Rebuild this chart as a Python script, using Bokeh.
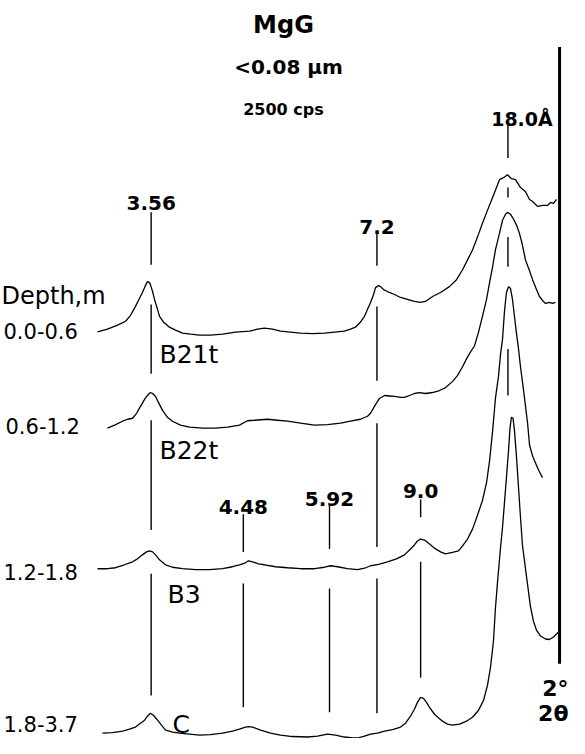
from bokeh.plotting import figure
from bokeh.models import Range1d, Label
from bokeh.embed import file_html
from bokeh.resources import INLINE
from bokeh.core.properties import value

# ---------------- data (2-theta in degrees, intensity in arbitrary units) ----------------
depth_labels = ["0.0-0.6", "0.6-1.2", "1.2-1.8", "1.8-3.7"]
horizon_labels = ["B21t", "B22t", "B3", "C"]
trace_offsets = [408, 314, 170, 1]

t1_theta = [28.01, 27.45, 26.88, 26.43, 26.15, 25.87, 25.65, 25.48, 25.31, 25.20, 25.08, 25.03,
            24.91, 24.80, 24.63, 24.52, 24.29, 23.96, 23.62, 23.22, 22.77, 22.27, 21.65, 20.97,
            20.24, 19.45, 19.00, 18.61, 18.16, 17.71, 17.15, 16.58, 15.91, 15.23, 14.67, 14.11,
            13.77, 13.49, 13.21, 12.98, 12.81, 12.64, 12.47, 12.36, 12.19, 12.08, 11.91, 11.69,
            11.29, 10.95, 10.56, 10.17, 9.83, 9.55, 9.15, 8.70, 8.20, 7.80, 7.46, 7.18, 6.90,
            6.62, 6.34, 6.06, 5.77, 5.55, 5.38, 5.16, 4.93, 4.71, 4.48, 4.20, 3.92, 3.69, 3.52,
            3.24, 2.96, 2.68, 2.51, 2.34, 2.17]
t1_int = [3.3, 6, 10, 14, 20, 29, 37, 43, 50, 54, 53, 51, 44, 36, 26, 19, 13, 8, 5, 2, 1, 0, 0, 1,
          3, 4, 6, 7, 6, 4, 3, 2, 1.5, 2, 3, 4, 6, 8, 13, 19, 26, 33, 41, 48, 50, 49, 46, 44, 41,
          38, 36, 34, 33, 34, 39, 43, 49, 56, 66, 76, 86, 99, 113, 126, 139, 149, 157, 159, 162,
          158, 157, 149, 145, 137, 135, 130, 131, 131, 134, 133, 137]

t2_theta = [27.45, 27.05, 26.60, 26.32, 26.04, 25.81, 25.59, 25.36, 25.20, 25.03, 24.91, 24.74,
            24.58, 24.35, 24.07, 23.79, 23.34, 22.83, 22.10, 21.37, 20.69, 20.02, 19.57, 19.17,
            18.44, 17.88, 17.31, 16.58, 15.79, 15.06, 14.33, 13.77, 13.21, 12.81, 12.64, 12.42,
            12.14, 11.85, 11.57, 11.29, 10.95, 10.73, 10.45, 10.17, 9.88, 9.55, 9.15, 8.76, 8.42,
            8.03, 7.75, 7.46, 7.24, 7.01, 6.79, 6.56, 6.34, 6.11, 5.94, 5.77, 5.61, 5.38, 5.21,
            5.04, 4.93, 4.76, 4.65, 4.42, 4.26, 4.09, 3.92, 3.69, 3.52, 3.30, 3.13, 2.96, 2.79,
            2.57, 2.40, 2.23]
t2_int = [0, 3, 7, 9, 10, 15, 22, 29, 33, 36, 35, 32, 26, 18, 11, 7, 3, 1, 0, 0, 1, 3, 7.5, 8, 9,
          8, 7, 5, 3, 3.5, 5, 7, 9, 12, 15, 22, 30, 33, 32.5, 32, 31, 31, 33, 35, 36, 35, 36, 38,
          41, 47, 53, 62, 70, 77, 83, 97, 113, 130, 147, 163, 180, 197, 210, 216, 218, 216, 213,
          205, 197, 185, 170, 159, 150, 140, 133, 129, 126, 127, 126, 127]

t3_theta = [28.01, 27.45, 27.00, 26.49, 26.04, 25.76, 25.48, 25.25, 25.08, 24.91, 24.74, 24.52,
            24.18, 23.79, 23.22, 22.49, 21.71, 20.97, 20.41, 20.02, 19.68, 19.51, 19.28, 18.95,
            18.61, 17.99, 17.31, 16.58, 15.79, 15.23, 14.89, 14.50, 13.94, 13.37, 12.98, 12.64,
            12.19, 11.69, 11.18, 10.73, 10.39, 10.17, 10.00, 9.83, 9.60, 9.32, 8.98, 8.70, 8.42,
            8.03, 7.69, 7.46, 7.18, 6.90, 6.62, 6.34, 6.11, 5.94, 5.77, 5.61, 5.44, 5.32, 5.21,
            5.10, 4.99, 4.87, 4.76, 4.65, 4.54, 4.42, 4.31, 4.20, 4.09, 3.97, 3.80, 3.69, 3.52,
            3.41, 3.19, 2.96]
t3_int = [2, 2, 3, 6, 9, 12, 16, 19, 20, 19, 16, 11, 6, 3.5, 2, 1, 1, 2, 4, 6, 8, 10, 9, 7, 6, 4,
          3, 2, 2, 3.5, 5, 4, 2, 1, 2.5, 5, 6.5, 9, 12, 16, 22, 26, 30, 32, 31, 27, 22, 19, 17,
          18.5, 20, 25, 32, 42, 56, 71, 89, 111, 141, 174, 196, 219, 234, 262, 281, 287, 285,
          274, 257, 239, 224, 206, 191, 174, 149, 127, 116, 111, 102, 94]

t4_theta = [27.73, 27.17, 26.60, 26.21, 25.87, 25.59, 25.36, 25.20, 25.03, 24.86, 24.63, 24.41,
            24.18, 23.79, 23.39, 22.83, 22.27, 21.65, 20.97, 20.41, 20.02, 19.68, 19.51, 19.28,
            18.83, 18.27, 17.71, 17.03, 16.19, 15.63, 15.06, 14.61, 14.11, 13.66, 13.37, 12.98,
            12.64, 12.25, 11.85, 11.40, 10.95, 10.67, 10.39, 10.17, 10.00, 9.83, 9.66, 9.49, 9.32,
            9.04, 8.59, 8.31, 8.03, 7.63, 7.24, 6.90, 6.56, 6.28, 6.06, 5.89, 5.72, 5.61, 5.49,
            5.32, 5.21, 5.10, 4.99, 4.87, 4.79, 4.71, 4.62, 4.54, 4.42, 4.31, 4.20, 4.09, 3.86,
            3.64, 3.47, 3.30, 3.07, 2.79, 2.57, 2.34, 2.17, 2.06]
t4_int = [5, 5.5, 7, 9, 11, 15, 18, 22, 25, 23, 18, 13, 8, 6, 5, 4, 3, 3.5, 5, 7, 9, 11, 11.5, 11,
          8, 5, 3, 1.5, 1, 2, 4, 3, 1, 0, 0, 2, 4, 5, 7, 8.5, 11, 15, 22, 29, 36, 41, 40, 36, 31,
          24, 17, 14, 13, 14, 17, 21, 28, 38, 53, 71, 98, 131, 158, 193, 213, 238, 263, 291, 313,
          324, 323, 311, 283, 253, 223, 195, 163, 133, 118, 109, 103, 100, 99.5, 102, 105, 107]

# d-spacing markers (2-theta positions, labels, and segment extents in intensity units)
marker_labels = ["3.56", "4.48", "5.92", "7.2", "9.0", "18.0Å"]
marker_theta = [24.99, 19.80, 14.95, 12.28, 9.82, 4.905]
marker_segments = [
    [(479, 532), (369, 439), (211, 322), (44, 167)],
    [(189, 227), (32, 157)],
    [(192, 236), (27, 152)],
    [(478, 512), (362, 437), (194, 319), (26, 162)],
    [(224, 242), (62, 179)],
    [(587, 621), (547, 557), (477, 507), (347, 394)],
]
marker_label_y = [541, 234, 242, 517, 251, 626]

axis_theta = 2.0
axis_span = (76, 699)

# ---------------- figure ----------------
p = figure(width=569, height=738, x_range=Range1d(33.47, 1.4405), y_range=Range1d(0.5, 746),
           output_backend="svg", toolbar_location=None, min_border=0,
           x_axis_location=None, y_axis_location=None, title_location=None)
p.grid.visible = False
p.outline_line_color = None
p.background_fill_color = "white"

traces = [(t1_theta, t1_int), (t2_theta, t2_int), (t3_theta, t3_int), (t4_theta, t4_int)]
for (th, it), off in zip(traces, trace_offsets):
    p.line(th, [v + off for v in it], line_color="black", line_width=1.3)

x0, y0, y1 = [], [], []
for th, segs in zip(marker_theta, marker_segments):
    for a, b in segs:
        x0.append(th)
        y0.append(a)
        y1.append(b)
p.segment(x0=x0, y0=y0, x1=x0, y1=y1, line_color="black", line_width=1.4)

p.segment(x0=[axis_theta], y0=[axis_span[0]], x1=[axis_theta], y1=[axis_span[1]],
          line_color="black", line_width=3)

BOLD = "DejaVu Sans"
p.text(x=marker_theta[:5], y=marker_label_y[:5], text=marker_labels[:5],
       text_font=value(BOLD), text_font_style="bold", text_font_size="20px",
       text_align="center", text_baseline="alphabetic", text_color="black")
p.text(x=[marker_theta[5]], y=[marker_label_y[5]], text=[marker_labels[5]], x_offset=14,
       text_font=value(BOLD), text_font_style="bold", text_font_size="19px",
       text_align="center", text_baseline="alphabetic", text_color="black")

def lab(txt, x, y, size, bold=False, align="left", xu="screen", yu="data"):
    p.add_layout(Label(x=x, y=y, x_units=xu, y_units=yu, text=txt,
                       text_font="DejaVu Sans", text_font_size=size,
                       text_font_style="bold" if bold else "normal",
                       text_align=align, text_baseline="alphabetic", text_color="black"))

# titles
lab("MgG", 283, 721, "24px", bold=True, align="center")
lab("<0.08 µm", 288, 679, "20px", bold=True, align="center")
lab("2500 cps", 283, 636, "16px", bold=True, align="center")

# depth labels
lab("Depth,m", 1, 447, "24px")
depth_y = [412, 316, 169, 15]
depth_x = [3, 5, 3, 3]
for t, xx, yy in zip(depth_labels, depth_x, depth_y):
    lab(t, xx, yy, "21px")

# horizon labels
hor_x = [159, 159, 167, 172]
hor_y = [388, 291, 146, 15]
for t, xx, yy in zip(horizon_labels, hor_x, hor_y):
    lab(t, xx, yy, "25px")

# axis end labels
lab("2°", 568, 51, "22px", bold=True, align="right")
lab("2θ", 568, 26, "22px", bold=True, align="right")

open("out.html", "w").write(file_html(p, INLINE))
